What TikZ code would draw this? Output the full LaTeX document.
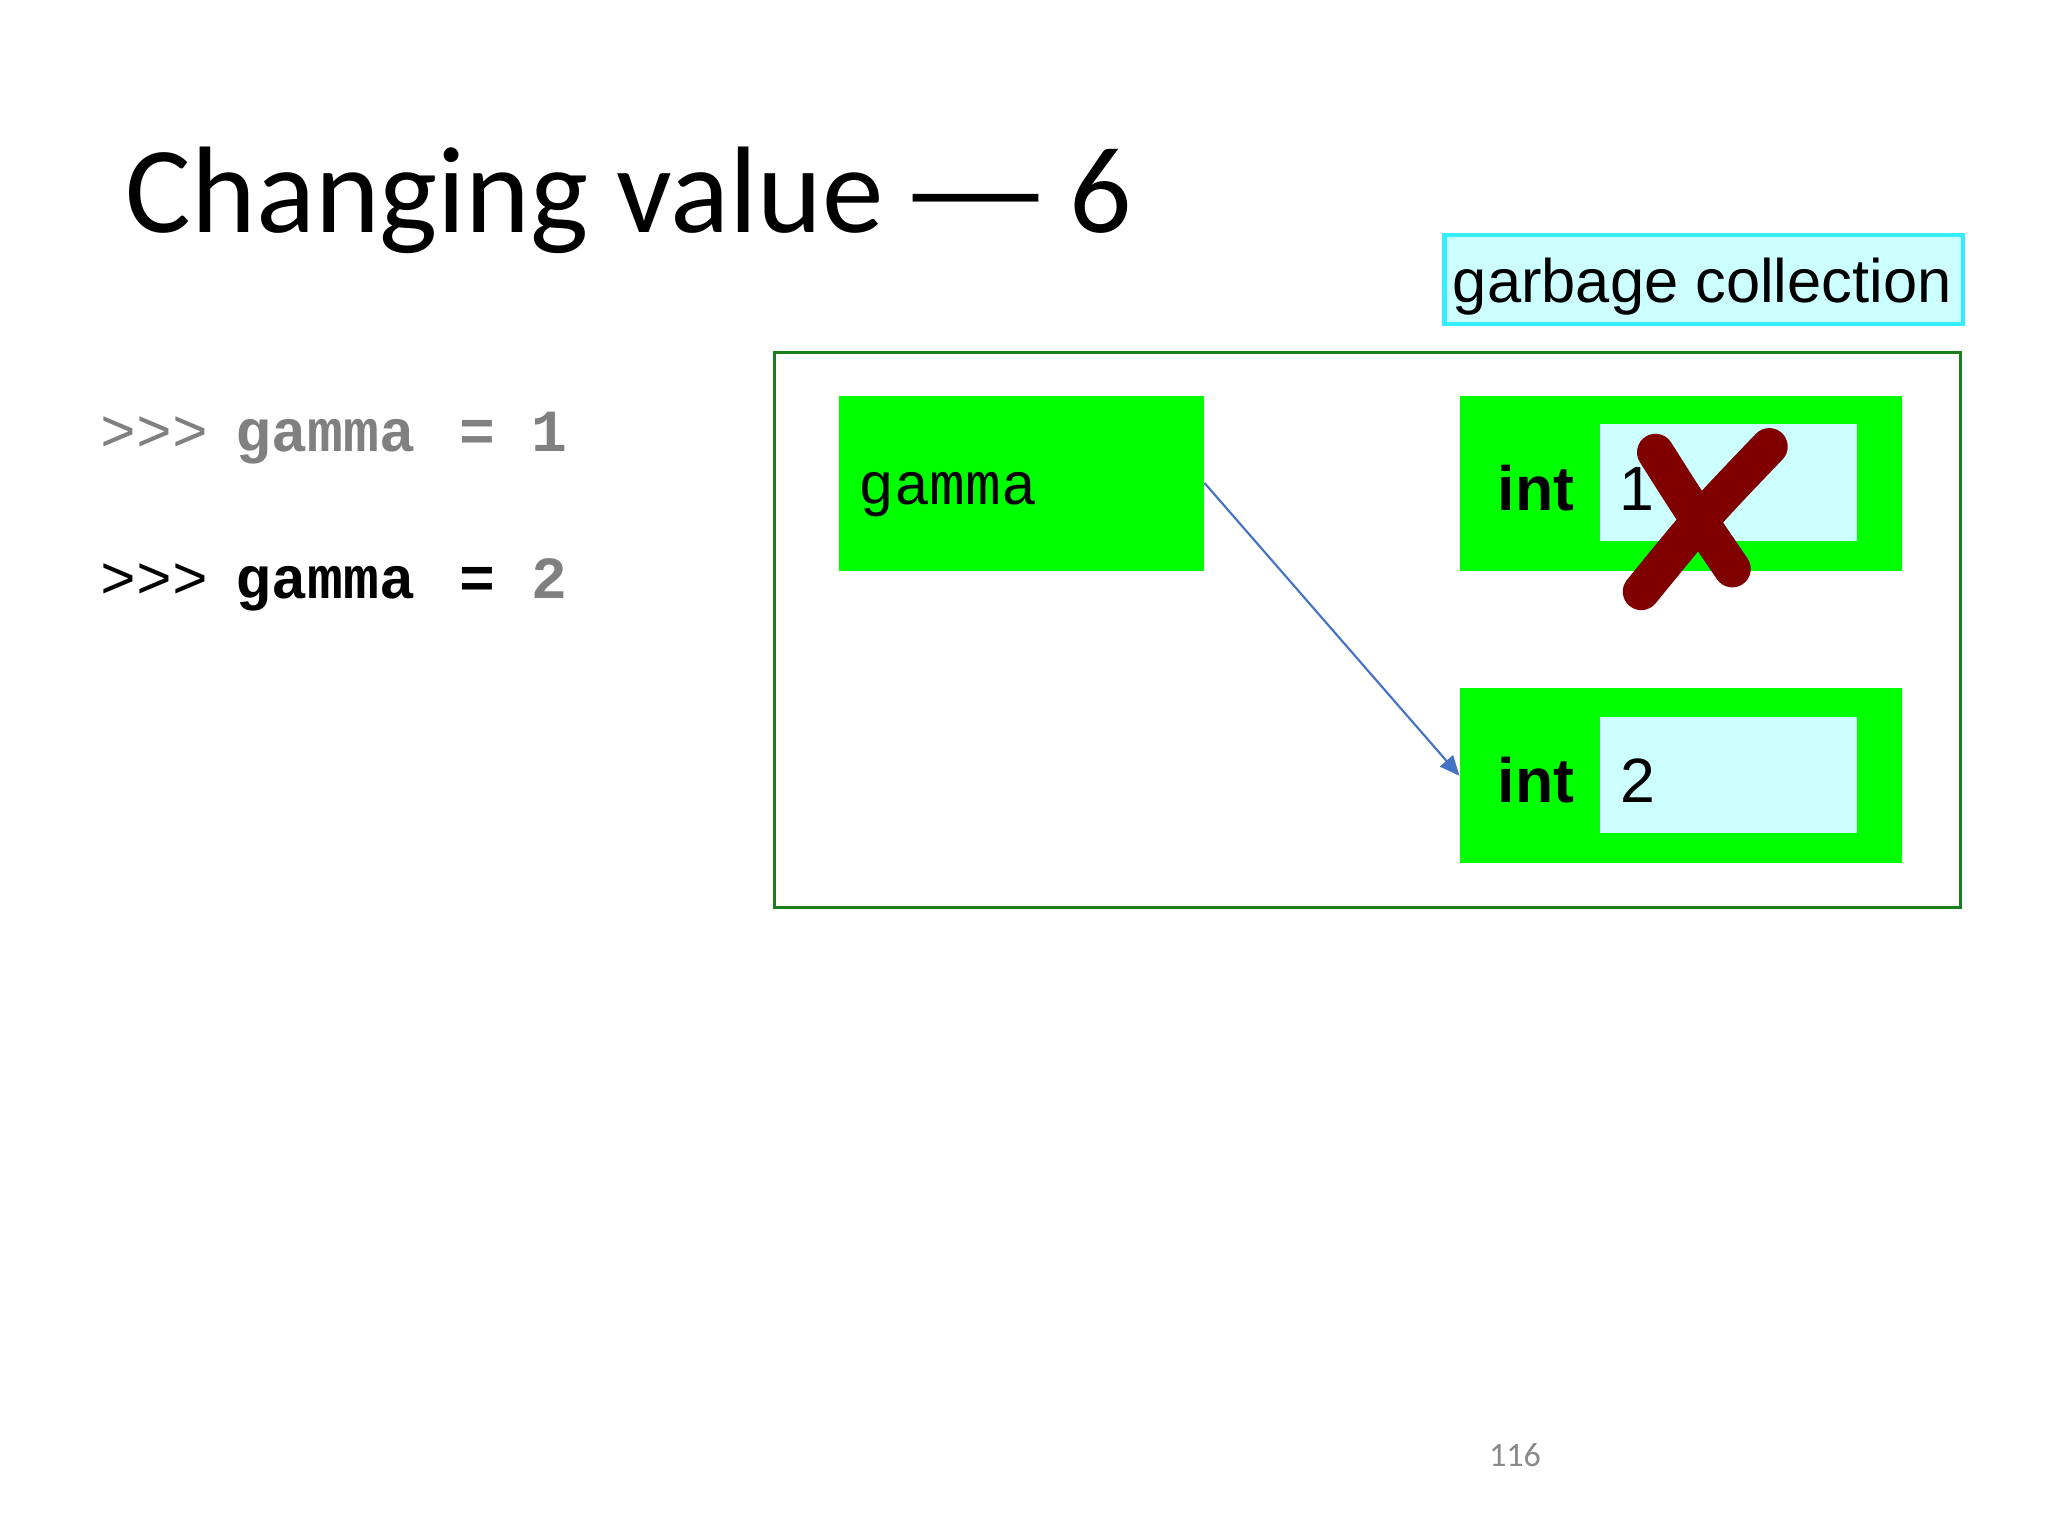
\documentclass[tikz,border=0pt]{standalone}
\usepackage{fontspec}
\setmainfont{Carlito}
\newfontfamily\armono{Liberation Mono}
\newfontfamily\arsans{Liberation Sans}
\usetikzlibrary{positioning,arrows.meta}

\definecolor{objgreen}{HTML}{00FF00}
\definecolor{valcyan}{HTML}{CCFFFF}
\definecolor{framegreen}{HTML}{1A7F1A}
\definecolor{gccyan}{HTML}{33EEFF}
\definecolor{refblue}{HTML}{4472C4}
\definecolor{crossred}{HTML}{800000}
\definecolor{codegray}{HTML}{808080}
\definecolor{numgray}{HTML}{8A8A8A}

\tikzset{
  txt/.style={anchor=base west,inner sep=0pt},
  code/.style={txt,font=\armono\fontsize{21}{25}\selectfont},
  sans/.style={txt,font=\arsans\fontsize{22}{26}\selectfont},
  obj/.style={fill=objgreen,minimum height=61.5pt,inner sep=0pt},
  val/.style={fill=valcyan,minimum width=90.5pt,minimum height=40.9pt,inner sep=0pt},
  ref/.style={refblue,line width=0.75pt,-{Triangle[length=7pt,width=6pt]}},
  cross/.style={crossred,line width=13pt,line cap=round}
}

\begin{document}
\begin{tikzpicture}[x=1pt,y=-1pt]
\useasboundingbox (0,0) rectangle (720,540);
% heading
\node[txt,font=\fontsize{43.3}{52}\selectfont] (title) at (44,81.7)
  {Changing value \kern-4.4pt\scalebox{1.39}[1]{—}\kern-4.4pt\ 6};
% statements
\node[code,text=codegray] (line1) at (35.3,158.9) {>>>\kern-3pt\ \textbf{gamma}\kern3pt\ \textbf{= 1}};
\node[code] (line2) at (35.3,210.3) {>>>\kern-3pt\ \textbf{gamma}\kern3pt\ \textbf{= \textcolor{codegray}{2}}};
% label
\node[draw=gccyan,fill=valcyan,line width=1.5pt,minimum width=182.3pt,minimum height=31.3pt,inner sep=0pt] (gc) at (598.95,98.25) {};
\node[sans,font=\arsans\fontsize{21.6}{26}\selectfont] (gctext) at (510.6,106.5) {garbage collection};
% memory
\node[draw=framegreen,line width=1.2pt,minimum width=416.9pt,minimum height=195.1pt,inner sep=0pt] (mem) at (480.75,221.55) {};
\node[obj,minimum width=128.5pt] (gamma) at (359.05,169.85) {};
\node[code] (gname) at (301.5,177.5) {gamma};
\node[obj,minimum width=155.2pt] (int1) at (590.9,169.85) {};
\node[val] (val1) at (607.65,169.65) {};
\node[sans,font=\arsans\bfseries\fontsize{22}{26}\selectfont] (type1) at (526.3,179.3) {int};
\node[sans] (num1) at (569,179.3) {1};
\node[obj,minimum width=155.2pt] (int2) at (590.9,272.75) {};
\node[val] (val2) at (607.65,272.55) {};
\node[sans,font=\arsans\bfseries\fontsize{22}{26}\selectfont] (type2) at (526.3,282.2) {int};
\node[sans] (num2) at (569.5,282.2) {2};
\draw[ref] (gamma.east) -- (int2.west);
% crossed out
\draw[cross] (582,159) .. controls (594,178) .. (609,200);
\draw[cross] (622,157) .. controls (599,181) .. (577,208);
% page number
\node[anchor=base,inner sep=0pt,font=\fontsize{12}{14}\selectfont,text=numgray] (pagenum) at (532.6,515.6) {116};
\end{tikzpicture}
\end{document}
